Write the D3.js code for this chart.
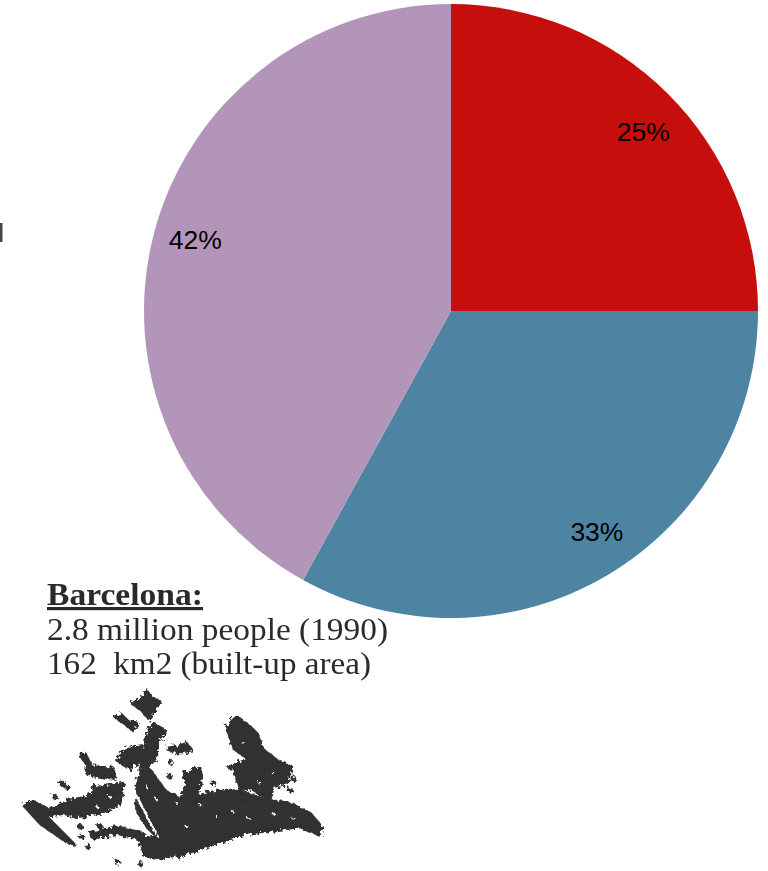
<!DOCTYPE html>
<html><head><meta charset="utf-8">
<script src="https://cdn.jsdelivr.net/npm/d3@7"></script>
<style>html,body{margin:0;padding:0;background:#fff;overflow:hidden}svg{display:block}</style>
</head><body>
<svg id="c" width="768" height="871"></svg>
<script>
const categories = ["A", "B", "C"];
const shares = [25, 33, 42];
const colors = ["#c60f0d", "#4c84a1", "#b295b8"];
const captionLines = ["Barcelona:", "2.8 million people (1990)", "162  km2 (built-up area)"];
const captionWidths = [156, 341, 324];
const labelNudges = [[5,8],[11,-8],[1,-6]];
// decorative city-footprint illustration
const mapBlobs = [
 [[395,400],[430,385],[440,362],[455,385],[480,395],[465,420],[445,445],[425,420]],
 [[345,440],[365,435],[385,455],[412,458],[400,482],[375,462]],
 [[440,490],[460,460],[500,485],[470,510],[470,560],[440,600],[420,600],[435,540]],
 [[350,570],[380,535],[430,530],[430,570],[385,595]],
 [[240,555],[255,550],[275,590],[340,595],[345,625],[300,620],[260,610],[262,585]],
 [[410,650],[425,600],[450,600],[480,640],[510,680],[520,720],[545,680],[560,650],[550,610],[600,595],[600,640],[590,680],[640,665],[690,660],[740,670],[800,690],[870,700],[930,730],[965,770],[960,795],[900,770],[820,780],[740,790],[650,820],[560,850],[480,865],[430,855],[420,810],[470,800],[440,770],[410,720]],
 [[680,470],[710,440],[750,470],[770,490],[790,540],[830,570],[875,590],[860,640],[820,650],[810,690],[760,660],[780,620],[790,590],[750,570],[700,535],[690,500]],
 [[70,705],[100,695],[150,720],[210,690],[270,680],[300,700],[310,650],[370,640],[360,700],[300,730],[230,740],[190,730],[140,740],[225,825],[190,810],[120,760]],
 [[270,790],[350,770],[430,790],[430,810],[350,790],[280,805]],
 [[500,535],[530,530],[560,520],[575,540],[550,545],[520,545]],
 [[550,610],[600,595],[605,625],[570,630]],
 [[480,700],[620,690],[780,700],[860,720],[800,770],[640,810],[500,840],[460,780]],
 [[700,590],[750,560],[790,600],[770,650],[720,660]],
 [[250,690],[300,650],[340,670],[320,720],[260,730]],
 [[430,630],[530,680],[560,720],[520,780],[470,780],[425,710]]
];
const mapSpecks = [[185,640],[165,680],[690,590],[510,575],[265,830],[350,875],[420,880],[540,860],[880,625],[240,770],[200,650],[280,650],[870,660],[640,640],[510,620],[300,770],[245,800],[955,790],[700,500],[845,610]];
const mapHoles = [[395,650,470,795]];
const mapPits = [[600,705],[650,740],[700,725],[745,745],[820,730],[560,770],[530,700],[440,650],[470,690],[330,680],[780,640],[730,520],[820,610],[290,710],[620,650],[880,745]];

const svg = d3.select("#c");
const defs = svg.append("defs");
const rough = defs.append("filter").attr("id","rough").attr("x","-5%").attr("y","-5%").attr("width","110%").attr("height","110%");
rough.append("feTurbulence").attr("type","fractalNoise").attr("baseFrequency",0.3).attr("numOctaves",2).attr("seed",4).attr("result","n");
rough.append("feDisplacementMap").attr("in","SourceGraphic").attr("in2","n").attr("scale",8).attr("result","d");
rough.append("feGaussianBlur").attr("in","d").attr("stdDeviation",0.6);
defs.append("filter").attr("id","soft").append("feGaussianBlur").attr("stdDeviation",0.5);

const cx = 451, cy = 311, R = 307;
const pie = d3.pie().sort(null).value(d => d)(shares);
const arc = d3.arc().innerRadius(0).outerRadius(R);
const labelArc = d3.arc().innerRadius(265).outerRadius(265);
const g = svg.append("g").attr("transform",`translate(${cx},${cy})`);
g.selectAll("path").data(pie).join("path").attr("d",arc).attr("fill",(d,i)=>colors[i]);
g.selectAll("text").data(pie).join("text")
 .attr("transform",(d,i)=>{const c=labelArc.centroid(d);return `translate(${c[0]+labelNudges[i][0]},${c[1]+labelNudges[i][1]})`;})
 .attr("text-anchor","middle").attr("dy","0.36em")
 .attr("font-family","'Liberation Sans',Arial,sans-serif").attr("font-size",26.5).attr("fill","#000")
 .text(d=>d.value+"%");

const cap = svg.append("g").attr("filter","url(#soft)").attr("font-family","'Liberation Serif',serif").attr("fill","#2c2c2c");
const capY = [605, 640, 674];
cap.selectAll("text").data(captionLines).join("text")
 .attr("x",47).attr("y",(d,i)=>capY[i]).style("white-space","pre")
 .attr("font-size",32).attr("font-weight",(d,i)=>i?"normal":"bold")
 .attr("textLength",(d,i)=>captionWidths[i]).attr("lengthAdjust","spacingAndGlyphs")
 .attr("text-decoration",(d,i)=>i?null:"underline").text(d=>d);

const sx = d3.scaleLinear().domain([0,1200]).range([0,400]);
const sy = d3.scaleLinear().domain([0,900]).range([570,870]);
const line = d3.line().x(p=>sx(p[0])).y(p=>sy(p[1])).curve(d3.curveLinearClosed);
const map = svg.append("g").attr("filter","url(#rough)");
map.selectAll("path.b").data(mapBlobs).join("path").attr("class","b").attr("d",line).attr("fill","#303030").attr("stroke","#303030").attr("stroke-width",3).attr("stroke-linejoin","round");
map.selectAll("circle.s").data(mapSpecks).join("circle").attr("class","s").attr("cx",d=>sx(d[0])).attr("cy",d=>sy(d[1])).attr("r",2.8).attr("fill","#303030");
map.selectAll("circle.p").data(mapPits).join("circle").attr("class","p").attr("cx",d=>sx(d[0])).attr("cy",d=>sy(d[1])).attr("r",1.4).attr("fill","#fff");
map.selectAll("line").data(mapHoles).join("line").attr("x1",d=>sx(d[0])).attr("y1",d=>sy(d[1])).attr("x2",d=>sx(d[2])).attr("y2",d=>sy(d[3])).attr("stroke","#fff").attr("stroke-width",2.5);

svg.append("rect").attr("x",-1).attr("y",223).attr("width",3.5).attr("height",19).attr("fill","#444").attr("filter","url(#soft)");
</script>
</body></html>
